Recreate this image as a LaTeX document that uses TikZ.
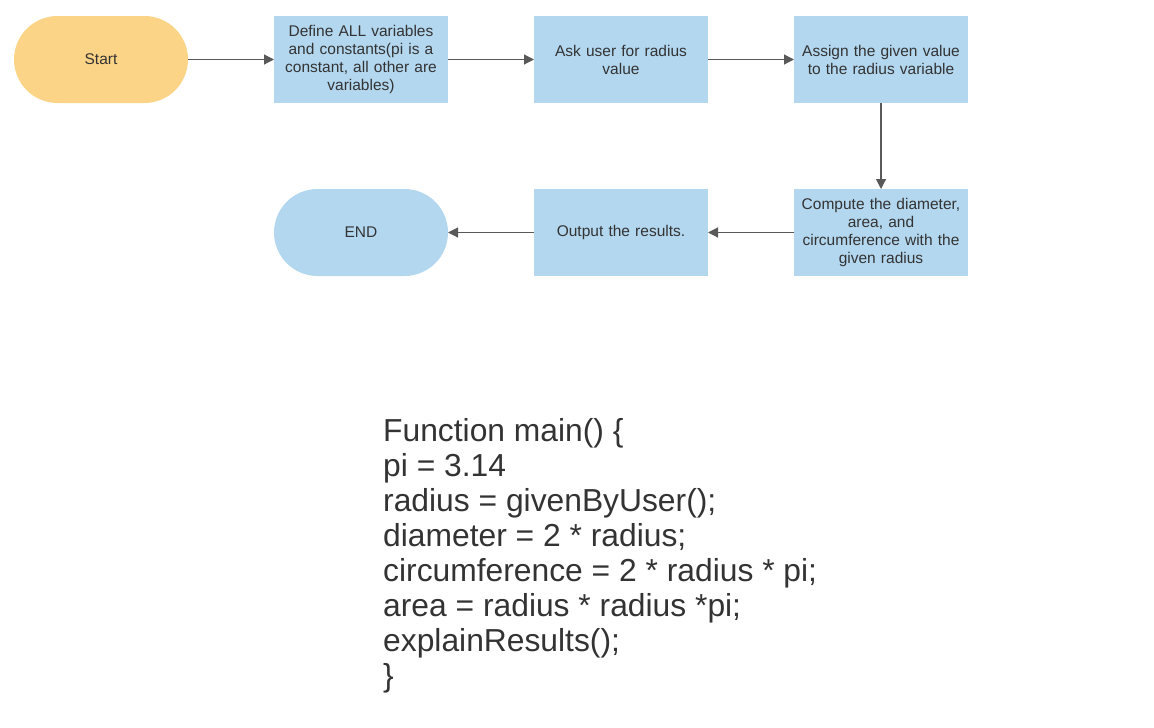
\documentclass[tikz,border=0pt]{standalone}
\usepackage{fontspec}
\setmainfont{Liberation Sans}
\usepackage{tikz}
\usetikzlibrary{calc, arrows.meta, positioning}
\usepackage{xcolor}
\definecolor{termcol}{HTML}{FBD487}
\definecolor{boxcol}{HTML}{B3D7EF}
\definecolor{txtcol}{HTML}{333333}
\definecolor{linecol}{HTML}{595959}
\tikzset{
    stepbox/.style = {rectangle, fill=boxcol, minimum width=174pt, minimum height=87pt,
        text width=168pt, align=center, inner sep=0pt, outer sep=0pt, text=txtcol,
        font=\fontsize{15.5}{18}\selectfont},
    termbox/.style = {stepbox, rounded corners=43.5pt},
    flow/.style = {draw=linecol, line width=1.2pt, -{Triangle[length=10pt, width=10pt]}}
}
\newcommand{\drawB}[3]{
    \node[stepbox, #1] (#2) {#3};
}
\newcommand{\drawE}[2]{
    \draw[flow] (#1) -- (#2);
}

\begin{document}
\begin{tikzpicture}[node distance=86pt and 86pt]
        \useasboundingbox (0pt,0pt) rectangle (1154pt,-728pt);
        \node[termbox, fill=termcol] (start) at (101pt,-59.5pt) {Start};
        % Top row
        \drawB{right=of start}{define}{Define ALL variables\\and constants(pi is a\\constant, all other are\\variables)}
        \drawB{right=of define}{ask}{Ask user for radius\\value}
        \drawB{right=of ask}{assign}{Assign the given value\\to the radius variable}
        % Bottom row
        \drawB{below=of assign}{compute}{Compute the diameter,\\area, and\\circumference with the\\given radius}
        \drawB{left=of compute}{output}{Output the results.}
        \node[termbox, left=of output] (end) {END};
        % Edges
        \drawE{start}{define}
        \drawE{define}{ask}
        \drawE{ask}{assign}
        \drawE{assign}{compute}
        \drawE{compute}{output}
        \drawE{output}{end}
        % Pseudocode
        \node[anchor=north west, align=left, inner sep=0pt, text=txtcol,
            font=\fontsize{31.8}{35}\selectfont] (code) at (383pt,-418pt)
            {Function main() \{\\
            pi = 3.14\\
            radius = givenByUser();\\
            diameter = 2 * radius;\\
            circumference = 2 * radius * pi;\\
            area = radius * radius *pi;\\
            explainResults();\\
            \}};
    \end{tikzpicture}
\end{document}
